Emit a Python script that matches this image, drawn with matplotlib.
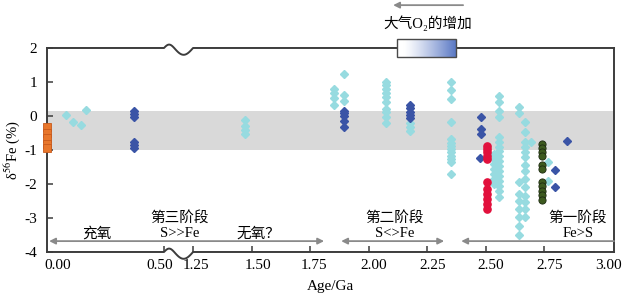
import numpy as np
import matplotlib
matplotlib.use("Agg")
import matplotlib.pyplot as plt
from matplotlib.transforms import ScaledTranslation

plt.rcParams['font.family'] = ['Liberation Serif', 'DejaVu Serif', 'Noto Sans CJK SC']
plt.rcParams['axes.unicode_minus'] = False
plt.rcParams['mathtext.fontset'] = 'stix'

# ---------------- data (age in Ga, delta56Fe in per mil) ----------------
orange_age = [0.0, 0.0, 0.0, 0.0, 0.0]
orange_val = [-0.33, -0.49, -0.65, -0.81, -0.95]

cyan_age = [0.08, 0.113, 0.147, 0.165, 1.473, 1.851, 1.897, 2.075, 2.175,
            2.353, 2.535, 2.559, 2.642, 2.670, 2.694, 2.766]
cyan_val = [
    [0.03], [-0.19], [-0.26], [0.18],
    [-0.11, -0.28, -0.41, -0.53],
    [0.78, 0.67, 0.53, 0.33],
    [1.24, 0.63, 0.45],
    [1.01, 0.91, 0.79, 0.68, 0.55, 0.42, 0.21, 0.11, -0.04, -0.21],
    [-0.21, -0.33, -0.43],
    [0.99, 0.75, 0.50, -0.17, -0.68, -0.78, -0.87, -0.97, -1.07, -1.17, -1.26, -1.36, -1.71],
    [-1.12, -1.26, -1.41, -1.56, -1.71, -1.85, -2.00],
    [0.60, 0.40, 0.16, -0.04, -0.63, -0.76, -0.91, -1.03, -1.18, -1.32, -1.47, -1.62,
     -1.76, -1.91, -2.06, -2.21, -2.38],
    [0.26, 0.08, -1.95, -2.29, -2.49, -2.74, -2.98, -3.23, -3.49],
    [-0.19, -0.48, -0.76, -0.92, -1.07, -1.21, -1.44, -1.61, -1.85, -2.10, -2.34, -2.54,
     -2.74, -2.98],
    [-0.77],
    [-1.36, -1.90],
]

blue_age = [0.372, 1.895, 2.175, 2.482, 2.477, 2.797, 2.847]
blue_val = [
    [0.15, 0.06, -0.03, -0.76, -0.85, -0.94],
    [0.16, 0.08, -0.01, -0.14, -0.31],
    [0.32, 0.23, 0.13, 0.03, -0.07],
    [-0.02, -0.37, -0.52],
    [-1.24],
    [-1.58, -2.08],
    [-0.73],
]

red_age = 2.508
red_val = [-0.87, -0.97, -1.07, -1.17, -1.27, -1.93, -2.15, -2.30, -2.45, -2.58, -2.74]

olive_age = 2.741
olive_val = [-0.82, -0.94, -1.06, -1.18, -1.43, -1.55, -1.95, -2.07, -2.20, -2.33, -2.46]

tick_ages = [0.0, 0.5, 1.25, 1.5, 1.75, 2.0, 2.25, 2.5, 2.75, 3.0]
tick_labels = ['0.00', '0.50', '1.25', '1.50', '1.75', '2.00', '2.25', '2.50', '2.75', '3.00']
ytick_vals = [2, 1, 0, -1, -2, -3, -4]

# ---------------- broken x-axis mapping ----------------
BREAK_LO, BREAK_HI, GAP = 0.5, 1.25, 0.124


def to_u(age):
    a = np.asarray(age, dtype=float)
    return np.where(a <= BREAK_LO, a, a - BREAK_HI + BREAK_LO + GAP)


def expand(ages, vals):
    xs, ys = [], []
    for a, vs in zip(ages, vals):
        xs += [a] * len(vs)
        ys += list(vs)
    return to_u(xs), np.array(ys)


fig = plt.figure(figsize=(6.22, 3.02), dpi=100)
ax = fig.add_axes([0.0756, 0.1656, 0.9116, 0.6755])
XMAX = 2.423
ax.set_xlim(0, XMAX)
ax.set_ylim(-4, 2)

ax.axhspan(-1.0, 0.15, color='#d9d9d9', zorder=0, lw=0)

CYAN = '#97dbe0'
BLUE = '#3a54a6'
RED = '#e2103c'
OLIVE = '#3d5a1f'

x, y = expand(cyan_age, cyan_val)
ax.plot(x, y, ls='none', marker='D', ms=4.2, mfc=CYAN, mec=CYAN, zorder=3)
x, y = expand(blue_age, blue_val)
ax.plot(x, y, ls='none', marker='D', ms=4.2, mfc=BLUE, mec=BLUE, zorder=4)
ax.plot(to_u([red_age] * len(red_val)), red_val, ls='none', marker='o', ms=5.2,
        mfc=RED, mec=RED, zorder=5)
ax.plot(to_u([olive_age] * len(olive_val)), olive_val, ls='none', marker='o', ms=5.2,
        mfc=OLIVE, mec='#1c2a10', mew=0.6, zorder=5)
ax.plot(to_u(orange_age), orange_val, ls='none', marker='s', ms=5.6,
        mfc='#e8762b', mec='#c85a1c', mew=0.6, zorder=6, clip_on=False)

# ---------------- spines with break ----------------
SPC = '#3c3c3c'
for s in ['top', 'bottom']:
    ax.spines[s].set_visible(False)
for s in ['left', 'right']:
    ax.spines[s].set_color(SPC)
    ax.spines[s].set_linewidth(1.4)

u0, u1 = float(to_u(BREAK_LO)), float(to_u(BREAK_HI))
t = np.linspace(0, 1, 60)
wave = np.where(t < 0.35, 0.10 * np.sin(np.pi * t / 0.35),
                -0.20 * np.sin(np.pi * (t - 0.35) / 0.65))
for ybase in [2, -4]:
    xs = np.concatenate([[0], u0 + (u1 - u0) * t, [XMAX]])
    ys = np.concatenate([[ybase], ybase + wave, [ybase]])
    ax.plot(xs, ys, color=SPC, lw=1.4, clip_on=False, zorder=7,
            solid_capstyle='projecting')

# ---------------- ticks ----------------
ax.set_xticks(to_u(tick_ages))
ax.set_xticklabels(tick_labels)
ax.set_yticks(ytick_vals)
ax.set_yticklabels([str(v) for v in ytick_vals])
ax.tick_params(axis='both', direction='in', length=4, width=1.1, color=SPC,
               labelsize=11, labelcolor='black')
ax.tick_params(axis='x', pad=5)
ax.tick_params(axis='y', pad=7, right=False)
xt = ax.xaxis.get_major_ticks()
xt[0].tick1line.set_visible(False)
xt[-1].tick1line.set_visible(False)
label_dx = [11, -4, 3, 6, 4, 5, 6, 5, 6, 6]
for lab, dx in zip(ax.get_xticklabels(), label_dx):
    lab.set_transform(lab.get_transform() + ScaledTranslation(dx / 100, 0, fig.dpi_scale_trans))

ax.set_xlabel('Age/Ga', fontsize=11)
ax.xaxis.set_label_coords(0.5, -0.135)
ax.set_ylabel(r'δ$^{56}$Fe (%)', fontsize=10.5)
ax.yaxis.set_label_coords(-0.045, 0.5)

# ---------------- stage annotations ----------------
FS = 10.5
ax.text(0.214, -3.47, '充氧', ha='center', va='center', fontsize=FS)
ax.text(0.568, -3.0, '第三阶段', ha='center', va='center', fontsize=FS)
ax.text(0.568, -3.47, 'S>>Fe', ha='center', va='center', fontsize=FS)
ax.text(float(to_u(1.528)), -3.47, '无氧？', ha='center', va='center', fontsize=FS)
ax.text(float(to_u(2.11)), -3.0, '第二阶段', ha='center', va='center', fontsize=FS)
ax.text(float(to_u(2.11)), -3.47, 'S<>Fe', ha='center', va='center', fontsize=FS)
ax.text(float(to_u(2.895)), -3.0, '第一阶段', ha='center', va='center', fontsize=FS)
ax.text(float(to_u(2.895)), -3.47, 'Fe>S', ha='center', va='center', fontsize=FS)

ARC = '#8a8a8a'
YA = -3.68
ap = dict(color=ARC, lw=1.3, mutation_scale=9, shrinkA=0, shrinkB=0)
ax.annotate('', xy=(float(to_u(1.81)), YA), xytext=(0.009, YA),
            arrowprops=dict(arrowstyle='<|-|>', **ap))
ax.annotate('', xy=(float(to_u(2.323)), YA), xytext=(float(to_u(1.883)), YA),
            arrowprops=dict(arrowstyle='<|-|>', **ap))
ax.annotate('', xy=(float(to_u(2.396)), YA), xytext=(XMAX, YA),
            arrowprops=dict(arrowstyle='-|>', **ap))

# ---------------- O2 increase box and arrow ----------------
bx0, bx1 = float(to_u(2.12)), float(to_u(2.372))
grad = np.linspace(0, 1, 256)
grad = np.clip((grad - 0.12) / 0.88, 0, 1) ** 1.2
c0 = np.array([1.0, 1.0, 1.0])
c1 = np.array([0.35, 0.47, 0.77])
img = (c0[None, :] * (1 - grad[:, None]) + c1[None, :] * grad[:, None])[None, :, :]
im = ax.imshow(img, extent=[bx0, bx1, 1.74, 2.26], aspect='auto', zorder=8,
               interpolation='bilinear')
im.set_clip_on(False)
ax.add_patch(plt.Rectangle((bx0, 1.74), bx1 - bx0, 0.52, fill=False, ec='#4a4a4a',
                           lw=1.0, zorder=9, clip_on=False))

ax.annotate('', xy=(float(to_u(2.105)), 3.26), xytext=(float(to_u(2.404)), 3.26),
            arrowprops=dict(arrowstyle='-|>', color=ARC, lw=1.3, mutation_scale=9,
                            shrinkA=0, shrinkB=0), annotation_clip=False)
ax.text(float(to_u(2.255)), 2.73, '大气O₂的增加', ha='center', va='center', fontsize=FS)

ax.set_xlim(0, XMAX)
ax.set_ylim(-4, 2)
fig.savefig('out.png', dpi=100)
